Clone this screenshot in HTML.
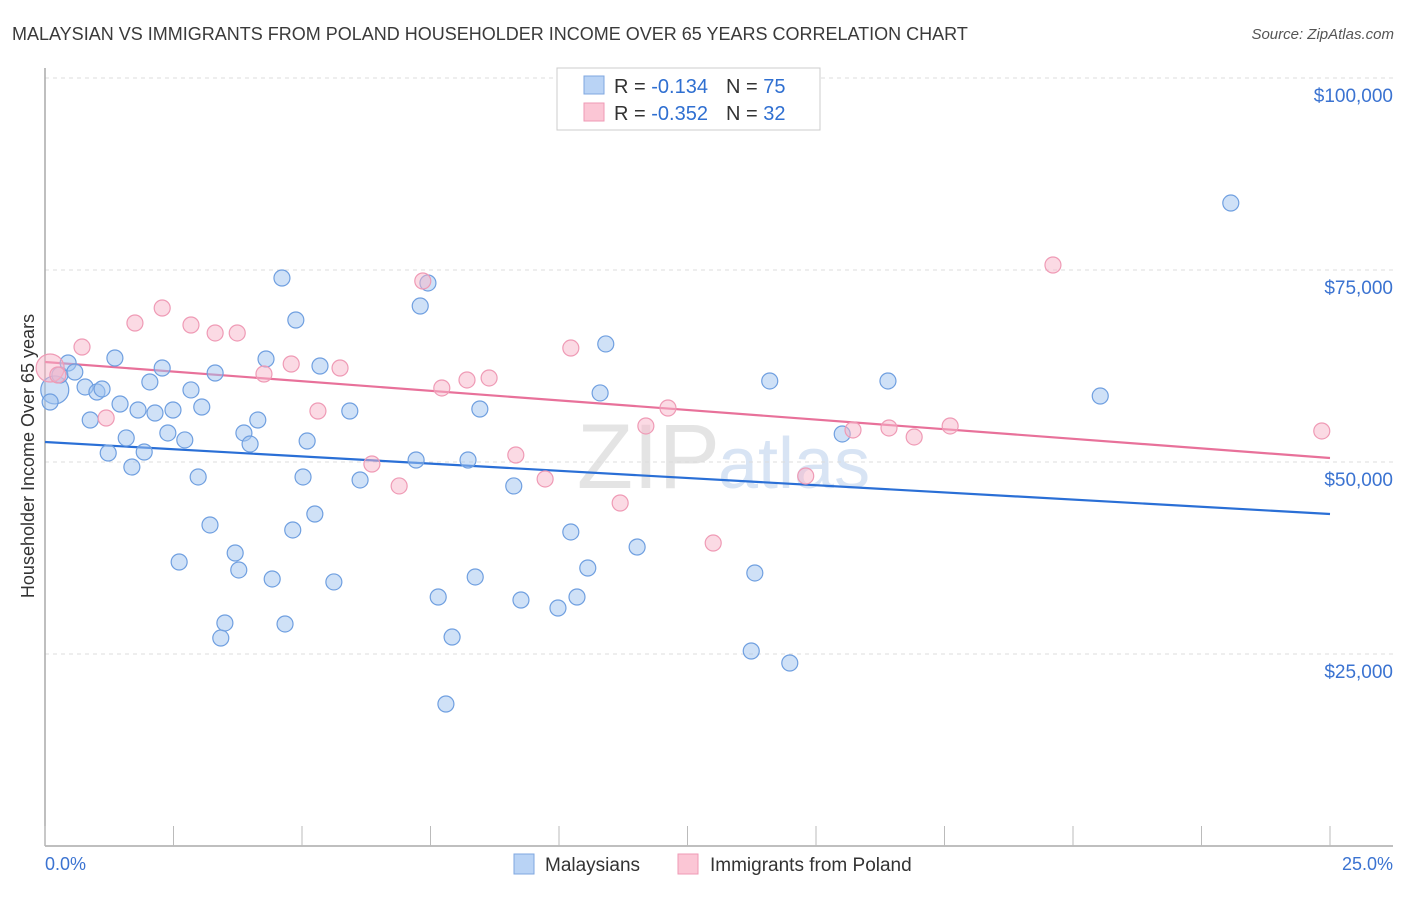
<!DOCTYPE html>
<html><head><meta charset="utf-8"><style>
body{margin:0;background:#fff;font-family:"Liberation Sans",sans-serif;}
svg text{font-family:"Liberation Sans",sans-serif;}
</style></head><body>
<svg id="chart" width="1406" height="892" xmlns="http://www.w3.org/2000/svg">
<text x="12" y="40" font-size="18" fill="#3a3a3a">MALAYSIAN VS IMMIGRANTS FROM POLAND HOUSEHOLDER INCOME OVER 65 YEARS CORRELATION CHART</text>
<text x="1394" y="39" font-size="15" fill="#555" text-anchor="end" font-style="italic">Source: ZipAtlas.com</text>
<text x="720" y="488" font-size="92" fill="#e4e4e4" text-anchor="end" font-family="Liberation Serif">ZIP</text>
<text x="718" y="488" font-size="72" fill="#d8e4f4">atlas</text>
<g id="grid"></g>
<g id="axes"></g>
<g id="lines"></g>
<g id="points"></g>
<text transform="translate(34,456) rotate(-90)" font-size="18" fill="#333" text-anchor="middle">Householder Income Over 65 years</text>
<g>
<rect x="557" y="68" width="263" height="62" fill="#fff" stroke="#ccc"/>
<rect x="584" y="76" width="20" height="18" fill="#b9d3f5" stroke="#7fa7e0"/>
<rect x="584" y="103" width="20" height="18" fill="#fbc6d5" stroke="#ef9ab5"/>
<text x="614" y="93" font-size="20" fill="#333">R = <tspan fill="#2f6fd1">-0.134</tspan><tspan dx="18">N = </tspan><tspan fill="#2f6fd1">75</tspan></text>
<text x="614" y="120" font-size="20" fill="#333">R = <tspan fill="#2f6fd1">-0.352</tspan><tspan dx="18">N = </tspan><tspan fill="#2f6fd1">32</tspan></text>
</g>
<text x="45" y="870" font-size="18" fill="#3b73d1">0.0%</text>
<text x="1393" y="870" font-size="18" fill="#3b73d1" text-anchor="end">25.0%</text>
<g>
<rect x="514" y="854" width="20" height="20" fill="#b9d3f5" stroke="#7fa7e0"/>
<text x="545" y="871" font-size="19" fill="#333">Malaysians</text>
<rect x="678" y="854" width="20" height="20" fill="#fbc6d5" stroke="#ef9ab5"/>
<text x="710" y="871" font-size="19" fill="#333">Immigrants from Poland</text>
</g>
</svg>
<script>
const yTicks=[25000,50000,75000,100000];
const yTickLabels=["$25,000","$50,000","$75,000","$100,000"];
const xTickVals=[0,2.5,5,7.5,10,12.5,15,17.5,20,22.5,25];
const malX=[0.19,0.10,0.29,0.45,0.58,0.78,0.88,1.01,1.11,1.23,1.36,1.46,1.58,1.69,1.81,1.93,2.04,2.14,2.28,2.39,2.49,2.61,2.72,2.84,2.98,3.05,3.21,3.31,3.42,3.50,3.70,3.77,3.87,3.99,4.14,4.30,4.42,4.61,4.67,4.82,4.88,5.02,5.10,5.25,5.35,5.62,5.93,6.13,7.22,7.30,7.45,7.65,7.80,7.92,8.23,8.37,8.46,9.12,9.26,9.98,10.23,10.35,10.56,10.80,10.91,11.52,13.74,13.81,14.10,14.49,15.51,16.40,20.53,23.07];
const malY=[59380,57810,61330,62890,61720,59770,55470,59110,59510,51170,63540,57550,53130,49350,56770,51300,60420,56380,62240,53780,56770,36980,52870,59380,48050,57160,41800,61590,27080,29040,38150,35940,53780,52340,55470,63410,34770,73960,28910,41150,68490,48050,52730,43230,62500,34380,56640,47660,50260,70310,73310,32420,18490,27210,50260,35030,56900,46880,32030,30990,40890,32420,36200,58990,65370,38930,25390,35550,60550,23830,53650,60550,58590,83720];
const polX=[0.10,0.25,0.72,1.19,1.75,2.28,2.84,3.31,3.74,4.26,4.79,5.31,5.74,6.36,6.89,7.35,7.72,8.21,8.64,9.16,9.73,10.23,11.19,11.69,12.12,13.00,14.80,15.72,16.42,16.91,17.61,19.61,24.84];
const polY=[62240,61330,64970,55730,68100,70050,67840,66800,66800,61460,62760,56640,62240,49740,46880,73570,59640,60680,60940,50910,47790,64840,44660,54690,57030,39450,48180,54170,54430,53260,54690,75650,54040];
const malTrend=[52600,43230];
const polTrend=[63020,50520];
const trendX=[0,25];

const NS="http://www.w3.org/2000/svg";
const X0=45,X1=1330,Y0=846,PXPER=192/25000;
function sx(v){return X0+(v/25)*(X1-X0);}
function sy(v){return Y0-v*PXPER;}
function mk(tag,attrs,parent){const e=document.createElementNS(NS,tag);for(const k in attrs)e.setAttribute(k,attrs[k]);document.getElementById(parent).appendChild(e);return e;}

yTicks.forEach((t,i)=>{
 const l=mk('line',{x1:45,x2:1393,y1:sy(t),y2:sy(t),stroke:'#ddd','stroke-dasharray':'4,4'},'grid');
 
 
 const tx=mk('text',{x:1393,y:sy(t)+24,'font-size':19,fill:'#3b73d1','text-anchor':'end'},'grid');
 tx.textContent=yTickLabels[i];
 
 
});
const ax=mk('line',{x1:45,x2:1393,y1:846,y2:846,stroke:'#aaa','stroke-width':1.5},'axes');


const ay=mk('line',{x1:45,x2:45,y1:68,y2:846,stroke:'#aaa','stroke-width':1.5},'axes');


xTickVals.forEach(v=>{
 const t=mk('line',{x1:sx(v),x2:sx(v),y1:826,y2:846,stroke:'#bbb'},'axes');
 
 
});
function trend(ys,color,name){
 const l=mk('line',{x1:sx(trendX[0]),x2:sx(trendX[1]),y1:sy(ys[0]),y2:sy(ys[1]),stroke:color,'stroke-width':2.2},'lines');
 
 
}
function pts(xs,ys,fill,stroke,name){
 xs.forEach((x,i)=>{
  const big=(i===0&&x<0.2)?1:0;
  const r=big?14:8;
  const c=mk('circle',{cx:sx(x),cy:sy(ys[i]),r:r,fill:fill,stroke:stroke,'stroke-width':1.2},'points');
  
  
 });
}
pts(malX,malY,'rgba(160,196,240,0.5)','#6f9fe0','malaysian-point');
pts(polX,polY,'rgba(248,182,202,0.5)','#ef9ab5','poland-point');
trend(malTrend,'#2a6fd6','malaysian-trendline');
trend(polTrend,'#e8719a','poland-trendline');
</script>
</body></html>
